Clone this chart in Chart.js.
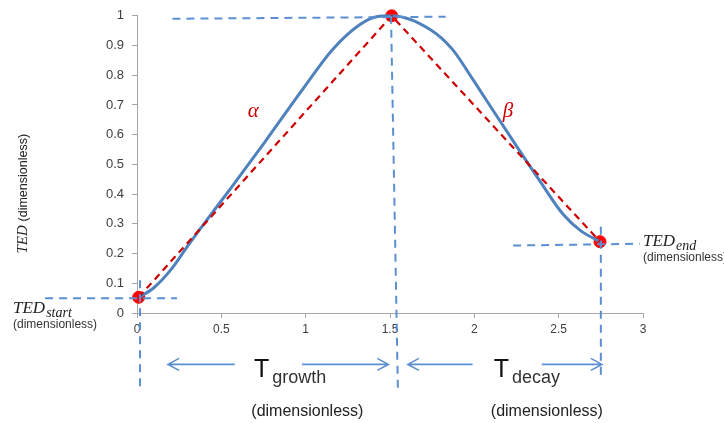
<!DOCTYPE html>
<html>
<head>
<meta charset="utf-8">
<script src="https://cdn.jsdelivr.net/npm/chart.js@4.4.0/dist/chart.umd.min.js"></script>
<style>
  html, body { margin: 0; padding: 0; background: #fff; }
  #wrap { width: 724px; height: 423px; }
</style>
</head>
<body>
<div id="wrap"><canvas id="tedChart"></canvas></div>
<script>
// TED curve
const curveX = [0.01, 0.1, 0.2, 0.3, 0.43, 0.55, 0.76, 0.97, 1.16, 1.32, 1.42, 1.51, 1.74, 1.87, 1.99, 2.09, 2.26, 2.39, 2.525, 2.63, 2.745];
const curveY = [0.053, 0.085, 0.145, 0.225, 0.325, 0.415, 0.577, 0.743, 0.887, 0.97, 0.997, 1.0, 0.953, 0.887, 0.787, 0.70, 0.553, 0.443, 0.333, 0.277, 0.24];

// start, peak and end points (red)
const keyX = [0.01, 1.51, 2.745];
const keyY = [0.053, 1.0, 0.24];

// dashed guide lines
const guideTopX = [0.21, 1.83], guideTopY = [0.99, 0.997];
const guideStartHX = [-0.545, 0.237], guideStartHY = [0.05, 0.05];
const guideStartVX = [0.018, 0.018], guideStartVY = [0.11, -0.25];
const guidePeakVX = [1.506, 1.547], guidePeakVY = [1.0, -0.267];
const guideEndHX = [2.23, 2.98], guideEndHY = [0.227, 0.233];
const guideEndVX = [2.75, 2.75], guideEndVY = [0.29, -0.217];

// axis ticks
const xTicks = [0, 0.5, 1, 1.5, 2, 2.5, 3];
const yTicks = [0, 0.1, 0.2, 0.3, 0.4, 0.5, 0.6, 0.7, 0.8, 0.9, 1];

const blue = '#4f81bd';
const guideBlue = '#5b8fd2';
const red = '#cc0000';

function pts(xs, ys) {
    return xs.map((x, i) => ({ x: x, y: ys[i] }));
}

function guide(xs, ys) {
    return {
        data: pts(xs, ys),
        showLine: true,
        borderColor: guideBlue,
        borderWidth: 2,
        borderDash: [8, 6],
        pointRadius: 0,
        clip: false
    };
}

// arrows and labels, drawn over the chart
const annotate = {
    id: 'annotate',
    afterDatasetsDraw(chart) {
        const ctx = chart.ctx;
        const sx = chart.scales.x, sy = chart.scales.y;
        const X = v => sx.getPixelForValue(v);
        const Y = v => sy.getPixelForValue(v);

        function arrow(from, to, y) {
            const x1 = X(from), x2 = X(to), yy = Y(y);
            const dir = x2 > x1 ? 1 : -1;
            ctx.save();
            ctx.strokeStyle = guideBlue;
            ctx.lineWidth = 1.6;
            ctx.beginPath();
            ctx.moveTo(x1, yy);
            ctx.lineTo(x2, yy);
            ctx.moveTo(x2 - dir * 11, yy - 6);
            ctx.lineTo(x2, yy);
            ctx.lineTo(x2 - dir * 11, yy + 6);
            ctx.stroke();
            ctx.restore();
        }
        arrow(0.58, 0.184, -0.173);
        arrow(0.978, 1.49, -0.173);
        arrow(1.99, 1.606, -0.173);
        arrow(2.40, 2.756, -0.173);

        ctx.save();
        ctx.textBaseline = 'alphabetic';
        ctx.textAlign = 'left';
        ctx.fillStyle = '#000';

        function tSub(x, main, sub) {
            ctx.font = '25px "Liberation Sans"';
            ctx.fillStyle = '#111';
            ctx.fillText(main, X(x), Y(-0.217));
            const w = ctx.measureText(main).width;
            ctx.font = '18px "Liberation Sans"';
            ctx.fillStyle = '#333';
            ctx.fillText(sub, X(x) + w + 3, Y(-0.235));
        }
        tSub(0.693, 'T', 'growth');
        tSub(2.115, 'T', 'decay');

        ctx.font = '16px "Liberation Sans"';
        ctx.fillStyle = '#222';
        ctx.textAlign = 'center';
        ctx.fillText('(dimensionless)', X(1.01), Y(-0.345));
        ctx.fillText('(dimensionless)', X(2.43), Y(-0.345));

        // alpha / beta
        ctx.fillStyle = red;
        ctx.font = 'italic 21px "Liberation Serif"';
        ctx.fillText('α', X(0.69), Y(0.66));
        ctx.fillText('β', X(2.2), Y(0.66));

        // TED_start / TED_end
        function tedLabel(x, y, sub, yDim) {
            ctx.textAlign = 'left';
            ctx.fillStyle = '#222';
            ctx.font = 'italic 17px "Liberation Serif"';
            ctx.fillText('TED', X(x), Y(y));
            const w = ctx.measureText('TED').width;
            ctx.font = 'italic 14px "Liberation Serif"';
            ctx.fillText(sub, X(x) + w + 1, Y(y) + 4);
            ctx.font = '12px "Liberation Sans"';
            ctx.fillStyle = '#333';
            ctx.fillText('(dimensionless)', X(x), Y(yDim));
        }
        tedLabel(-0.735, -0.0, 'start', -0.05);
        tedLabel(3.0, 0.226, 'end', 0.175);

        // y axis title
        ctx.save();
        ctx.translate(X(-0.68), Y(0.2));
        ctx.rotate(-Math.PI / 2);
        ctx.textAlign = 'left';
        ctx.fillStyle = '#222';
        ctx.font = 'italic 15px "Liberation Serif"';
        ctx.fillText('TED', 0, 5);
        const tw = ctx.measureText('TED ').width;
        ctx.font = '12.5px "Liberation Sans"';
        ctx.fillText('(dimensionless)', tw, 5);
        ctx.restore();

        ctx.restore();
    }
};

const fmt = v => String(parseFloat(Number(v).toFixed(2)));

new Chart(document.getElementById('tedChart'), {
    type: 'scatter',
    data: {
        datasets: [
            guide(guideTopX, guideTopY),
            guide(guideStartHX, guideStartHY),
            guide(guideStartVX, guideStartVY),
            guide(guidePeakVX, guidePeakVY),
            guide(guideEndHX, guideEndHY),
            guide(guideEndVX, guideEndVY),
            {
                data: pts(keyX, keyY),
                showLine: true,
                borderColor: red,
                borderWidth: 2.2,
                borderDash: [7, 5],
                pointRadius: 0,
                clip: false
            },
            {
                data: pts(curveX, curveY),
                showLine: true,
                borderColor: blue,
                borderWidth: 3,
                cubicInterpolationMode: 'monotone',
                pointRadius: 0,
                clip: false
            },
            {
                data: pts(keyX, keyY),
                showLine: false,
                pointStyle: 'circle',
                pointRadius: 6,
                pointBackgroundColor: '#ff0000',
                pointBorderColor: '#ff0000',
                clip: false
            }
        ]
    },
    options: {
        responsive: true,
        maintainAspectRatio: false,
        animation: false,
        layout: { padding: { left: 0, right: 81, top: 13, bottom: 0 } },
        plugins: {
            legend: { display: false },
            tooltip: { enabled: false }
        },
        scales: {
            x: {
                type: 'linear',
                min: 0,
                max: 3,
                afterFit: s => { s.height = 110; },
                afterBuildTicks: s => { s.ticks = xTicks.map(v => ({ value: v })); },
                border: { display: true, color: '#a6a6a6', width: 1 },
                grid: { display: true, drawOnChartArea: false, drawTicks: true, tickLength: 5, color: '#a6a6a6' },
                ticks: { color: '#404040', font: { family: 'Liberation Sans', size: 12 }, padding: 4, callback: fmt }
            },
            y: {
                type: 'linear',
                min: 0,
                max: 1,
                afterFit: s => { s.width = 137; },
                afterBuildTicks: s => { s.ticks = yTicks.map(v => ({ value: v })); },
                border: { display: true, color: '#a6a6a6', width: 1 },
                grid: { display: true, drawOnChartArea: false, drawTicks: true, tickLength: 5, color: '#a6a6a6' },
                ticks: { color: '#404040', font: { family: 'Liberation Sans', size: 13 }, padding: 8, callback: fmt }
            }
        }
    },
    plugins: [annotate]
});
</script>
</body>
</html>
